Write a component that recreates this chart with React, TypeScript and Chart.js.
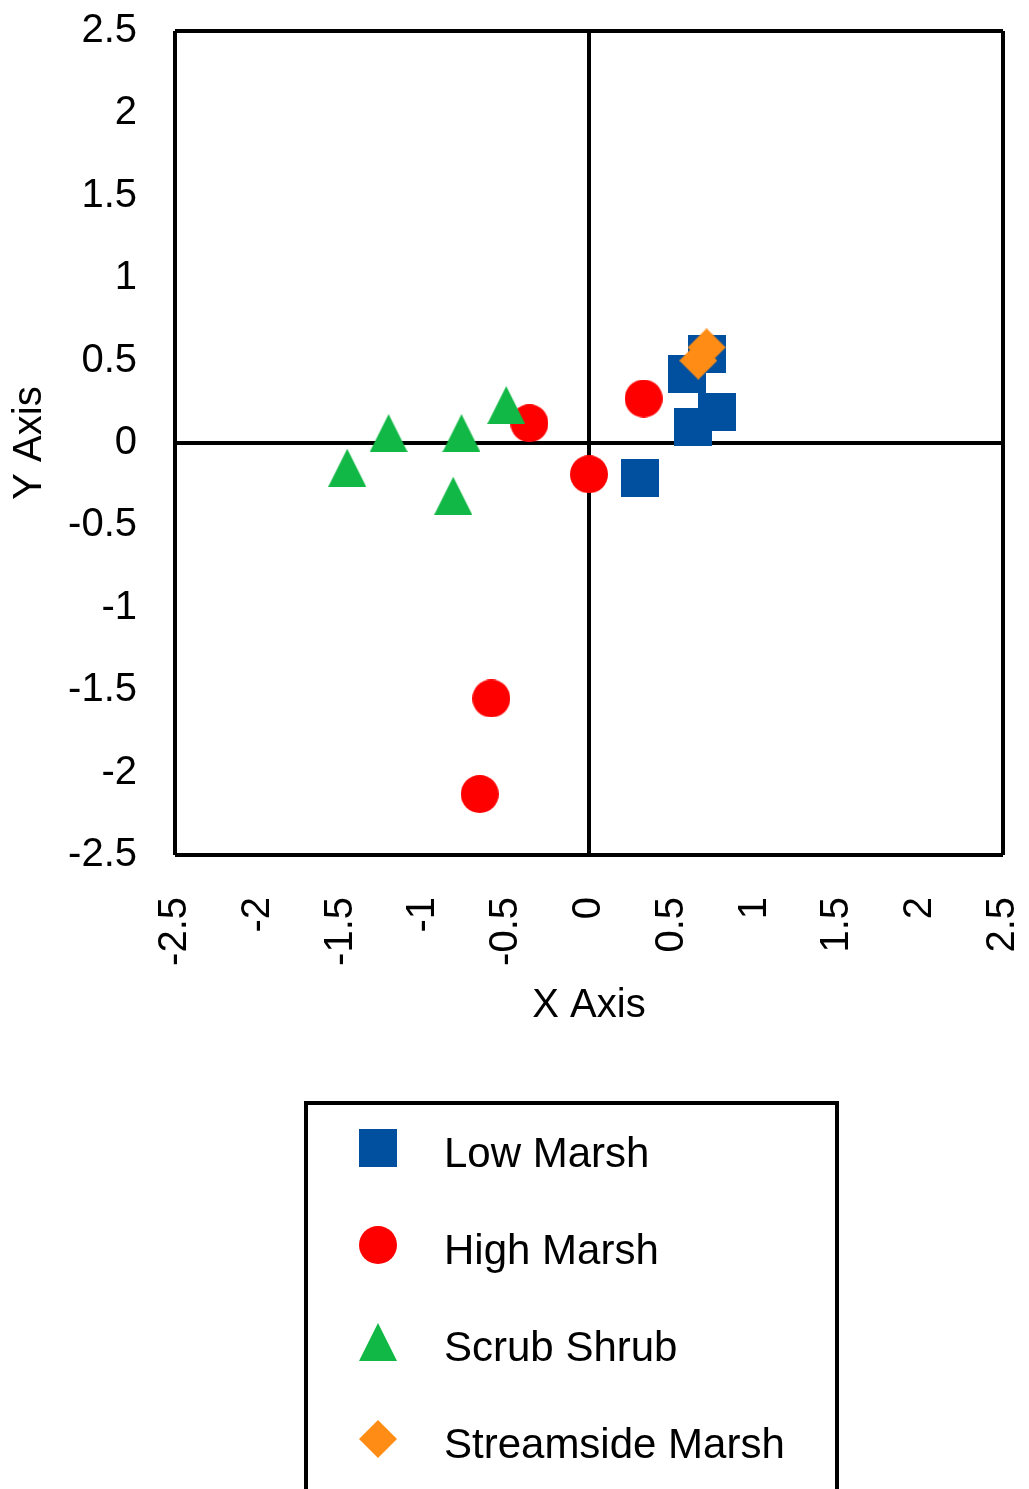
import { useEffect, useRef } from 'react';
import { Chart, registerables } from 'chart.js';

Chart.register(...registerables);

// Series names, in legend order
const seriesNames = ['Low Marsh', 'High Marsh', 'Scrub Shrub', 'Streamside Marsh'];

// Ordination scores per habitat group
const lowMarshX = [0.31, 0.63, 0.77, 0.59, 0.71];
const lowMarshY = [-0.21, 0.1, 0.19, 0.42, 0.54];

const highMarshX = [-0.36, 0.33, 0.0, -0.59, -0.66];
const highMarshY = [0.12, 0.27, -0.19, -1.55, -2.13];

const scrubShrubX = [-0.5, -1.21, -0.77, -1.46, -0.82];
const scrubShrubY = [0.23, 0.06, 0.06, -0.15, -0.32];

const streamsideX = [0.71, 0.66];
const streamsideY = [0.58, 0.5];

// Shared tick values / labels for both axes
const tickValues = [-2.5, -2, -1.5, -1, -0.5, 0, 0.5, 1, 1.5, 2, 2.5];
const tickLabels = ['-2.5', '-2', '-1.5', '-1', '-0.5', '0', '0.5', '1', '1.5', '2', '2.5'];

const FONT = "'Liberation Sans', Arial, Helvetica, sans-serif";
const W = 1029;
const H = 1489;

type Shape = 'square' | 'circle' | 'triangle' | 'diamond';

function makeMarker(shape: Shape, color: string, size = 38): HTMLCanvasElement {
  const c = document.createElement('canvas');
  c.width = size;
  c.height = size;
  const g = c.getContext('2d')!;
  g.fillStyle = color;
  g.beginPath();
  const h = size / 2;
  if (shape === 'square') {
    g.rect(0, 0, size, size);
  } else if (shape === 'circle') {
    g.arc(h, h, h, 0, Math.PI * 2);
  } else if (shape === 'triangle') {
    g.moveTo(h, 0);
    g.lineTo(size, size);
    g.lineTo(0, size);
    g.closePath();
  } else {
    g.moveTo(h, 0);
    g.lineTo(size, h);
    g.lineTo(h, size);
    g.lineTo(0, h);
    g.closePath();
  }
  g.fill();
  return c;
}

const toPoints = (xs: number[], ys: number[]) => xs.map((x, i) => ({ x, y: ys[i] }));

// Plot frame and the two zero lines are drawn as grid lines
const frameColor = (ctx: any) => {
  const v = ctx.tick ? ctx.tick.value : NaN;
  return v === 0 || Math.abs(v) === 2.5 ? '#000000' : 'rgba(0,0,0,0)';
};

const boxLegend = {
  id: 'boxLegend',
  afterDraw(chart: any) {
    const ctx = chart.ctx as CanvasRenderingContext2D;
    ctx.save();
    ctx.strokeStyle = '#000000';
    ctx.lineWidth = 4;
    ctx.strokeRect(306, 1103, 531, 440);
    ctx.font = `42px ${FONT}`;
    ctx.fillStyle = '#000000';
    ctx.textAlign = 'left';
    ctx.textBaseline = 'alphabetic';
    chart.data.datasets.forEach((ds: any, i: number) => {
      const cy = 1148 + i * 97;
      const img = ds.pointStyle as HTMLCanvasElement;
      ctx.drawImage(img, Math.round(378 - img.width / 2), Math.round(cy - img.height / 2));
      ctx.fillText(ds.label, 444, cy + 19);
    });
    ctx.restore();
  },
};

export default function App() {
  const canvasRef = useRef<HTMLCanvasElement | null>(null);

  useEffect(() => {
    if (!canvasRef.current) return;
    const markers = [
      makeMarker('square', '#00509F'),
      makeMarker('circle', '#FF0000'),
      makeMarker('triangle', '#12B846'),
      makeMarker('diamond', '#FF8C14'),
    ];
    const series = [
      toPoints(lowMarshX, lowMarshY),
      toPoints(highMarshX, highMarshY),
      toPoints(scrubShrubX, scrubShrubY),
      toPoints(streamsideX, streamsideY),
    ];

    const tickFont = { family: FONT, size: 40 };

    const chart = new Chart(canvasRef.current, {
      type: 'scatter',
      data: {
        datasets: seriesNames.map((label, i) => ({
          label,
          data: series[i],
          pointStyle: markers[i] as any,
          pointRadius: 19,
          pointHoverRadius: 19,
          // later series are painted on top
          order: seriesNames.length - i,
        })),
      },
      options: {
        responsive: false,
        animation: false,
        events: [],
        layout: { padding: { left: 0, top: 31, right: 26, bottom: H - 855 - 180 } },
        plugins: {
          legend: { display: false },
          tooltip: { enabled: false },
        },
        scales: {
          x: {
            type: 'linear',
            position: 'bottom',
            min: -2.5,
            max: 2.5,
            afterBuildTicks: (s: any) => {
              s.ticks = tickValues.map((value) => ({ value }));
            },
            afterFit: (s: any) => {
              s.height = 180;
              s.paddingLeft = 0;
              s.paddingRight = 0;
            },
            ticks: {
              autoSkip: false,
              minRotation: 90,
              maxRotation: 90,
              padding: 42,
              color: '#000000',
              font: tickFont,
              callback: (_v: any, i: number) => tickLabels[i],
            },
            grid: { color: frameColor, lineWidth: 4, drawTicks: false },
            border: { display: false },
            title: {
              display: true,
              text: 'X Axis',
              color: '#000000',
              font: tickFont,
              padding: { top: 0, bottom: 5 },
            },
          },
          y: {
            type: 'linear',
            position: 'left',
            min: -2.5,
            max: 2.5,
            afterBuildTicks: (s: any) => {
              s.ticks = tickValues.map((value) => ({ value }));
            },
            afterFit: (s: any) => {
              s.width = 175;
              s.paddingTop = 0;
              s.paddingBottom = 0;
            },
            ticks: {
              autoSkip: false,
              padding: 38,
              color: '#000000',
              font: tickFont,
              callback: (_v: any, i: number) => tickLabels[i],
            },
            grid: { color: frameColor, lineWidth: 4, drawTicks: false },
            border: { display: false },
            title: {
              display: true,
              text: 'Y Axis',
              color: '#000000',
              font: tickFont,
              padding: { top: 6, bottom: 0 },
            },
          },
        },
      },
      plugins: [boxLegend],
    });

    return () => chart.destroy();
  }, []);

  return (
    <div style={{ position: 'absolute', left: 0, top: 0, width: W, height: H, background: '#ffffff' }}>
      <canvas ref={canvasRef} width={W} height={H} style={{ display: 'block' }} />
    </div>
  );
}
